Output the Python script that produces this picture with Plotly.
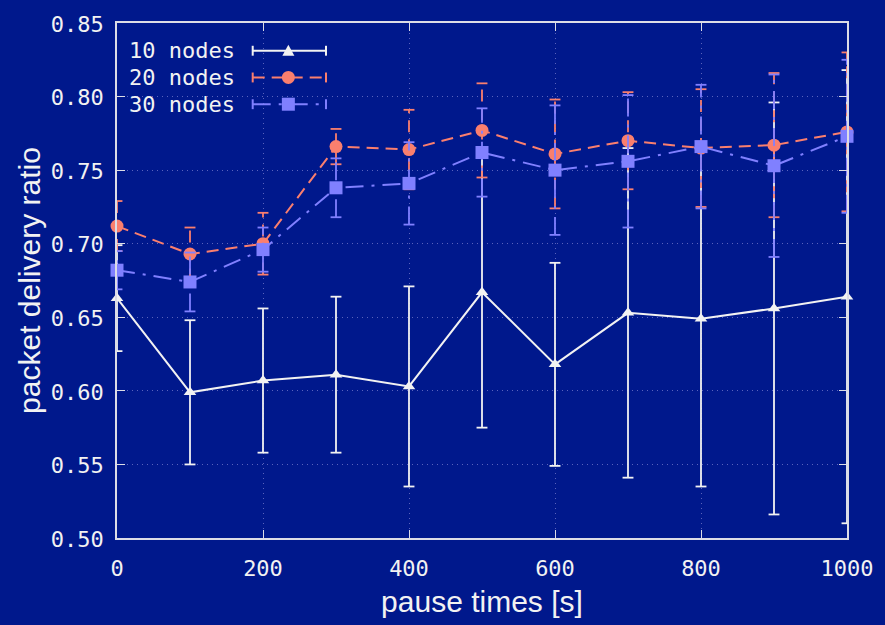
import plotly.graph_objects as go

pause_times = [0, 100, 200, 300, 400, 500, 600, 700, 800, 900, 1000]
n10 = [0.663, 0.599, 0.607, 0.611, 0.603, 0.667, 0.618, 0.653, 0.649, 0.656, 0.664]
n10_err = [0.036, 0.049, 0.049, 0.053, 0.068, 0.092, 0.069, 0.112, 0.114, 0.140, 0.154]
n20 = [0.712, 0.693, 0.700, 0.766, 0.764, 0.777, 0.761, 0.770, 0.765, 0.767, 0.776]
n20_err = [0.017, 0.018, 0.021, 0.012, 0.027, 0.032, 0.037, 0.033, 0.040, 0.049, 0.054]
n30 = [0.682, 0.674, 0.696, 0.738, 0.741, 0.762, 0.750, 0.756, 0.766, 0.753, 0.773]
n30_err = [0.013, 0.020, 0.015, 0.020, 0.028, 0.030, 0.044, 0.045, 0.042, 0.062, 0.052]
series_names = ["10 nodes", "20 nodes", "30 nodes"]
x_ticks = [0, 200, 400, 600, 800, 1000]
y_ticks = [0.50, 0.55, 0.60, 0.65, 0.70, 0.75, 0.80, 0.85]

BG = "#00188c"
WHITE = "#f2f2f2"
AXC = "#dcdce6"
RED = "#fa7f6e"
BLUE = "#8080ff"
MONO = "DejaVu Sans Mono"
SANS = "Liberation Sans"
W, H = 885, 625
L, R, T, B = 117, 854, 20, 540
XR = [0, 1000]

styles = [
    dict(color=WHITE, dash="solid", symbol="triangle-up", size=11),
    dict(color=RED, dash="12px,7px", symbol="circle", size=13),
    dict(color=BLUE, dash="18px,8px,3px,8px", symbol="square", size=13),
]
values = [n10, n20, n30]
errors = [n10_err, n20_err, n30_err]

# half-width of an error-bar cap, converted from pixels into x-data units
cap = 5.5 * (XR[1] - XR[0]) / (R - L)

fig = go.Figure()
for name, yv, ev, st in zip(series_names, values, errors, styles):
    bx, by, cx, cy = [], [], [], []
    for xv, y0, e in zip(pause_times, yv, ev):
        bx += [xv, xv, None]
        by += [y0 - e, y0 + e, None]
        for yy in (y0 - e, y0 + e):
            cx += [xv - cap, xv + cap, None]
            cy += [yy, yy, None]
    fig.add_trace(go.Scatter(x=bx, y=by, mode="lines", hoverinfo="skip",
                             line=dict(color=st["color"], width=1.8, dash=st["dash"]),
                             cliponaxis=False, showlegend=False))
    fig.add_trace(go.Scatter(x=cx, y=cy, mode="lines", hoverinfo="skip",
                             line=dict(color=st["color"], width=1.8),
                             cliponaxis=False, showlegend=False))
    fig.add_trace(go.Scatter(
        x=pause_times, y=yv, name=name, mode="lines+markers",
        line=dict(color=st["color"], width=2, dash=st["dash"]),
        marker=dict(color=st["color"], symbol=st["symbol"], size=st["size"]),
        cliponaxis=False, showlegend=False,
    ))

# gnuplot-style key (text left, sample right), in paper coordinates
def px(xp): return (xp - L) / (R - L)
def py(yp): return (B - yp) / (B - T)
rows = [48, 75, 102]
shapes = []
annotations = []
for name, st, ry in zip(series_names, styles, rows):
    annotations.append(dict(x=px(127), y=py(ry), xref="paper", yref="paper",
                            text=name, showarrow=False, xanchor="left", yanchor="middle",
                            font=dict(family=MONO, size=22, color=WHITE)))
    shapes.append(dict(type="line", xref="paper", yref="paper",
                       x0=px(254), x1=px(328), y0=py(ry), y1=py(ry),
                       line=dict(color=st["color"], width=2, dash=st["dash"])))
    for cxp in (254, 328):
        shapes.append(dict(type="line", xref="paper", yref="paper",
                           x0=px(cxp), x1=px(cxp), y0=py(ry - 5), y1=py(ry + 5),
                           line=dict(color=st["color"], width=2)))
    mx, my = px(290), py(ry)
    if st["symbol"] == "circle":
        shapes.append(dict(type="circle", xref="paper", yref="paper",
                           xsizemode="pixel", ysizemode="pixel", xanchor=mx, yanchor=my,
                           x0=-6.5, x1=6.5, y0=-6.5, y1=6.5,
                           fillcolor=st["color"], line=dict(width=0)))
    elif st["symbol"] == "square":
        shapes.append(dict(type="rect", xref="paper", yref="paper",
                           xsizemode="pixel", ysizemode="pixel", xanchor=mx, yanchor=my,
                           x0=-6.5, x1=6.5, y0=-6.5, y1=6.5,
                           fillcolor=st["color"], line=dict(width=0)))
    else:
        shapes.append(dict(type="path", xref="paper", yref="paper",
                           xsizemode="pixel", ysizemode="pixel", xanchor=mx, yanchor=my,
                           path="M -6,-5 L 6,-5 L 0,6 Z",
                           fillcolor=st["color"], line=dict(width=0)))

axis_common = dict(
    showline=True, linecolor=AXC, linewidth=1.5, mirror="ticks",
    ticks="inside", ticklen=8, tickcolor=AXC, tickwidth=1.2,
    showgrid=True, gridcolor="rgba(150,150,220,0.6)", gridwidth=1, griddash="1px,4px",
    zeroline=False, tickfont=dict(family=MONO, size=22, color=WHITE),
)

fig.update_layout(
    width=W, height=H,
    paper_bgcolor=BG, plot_bgcolor=BG,
    margin=dict(l=L, r=W - R, t=T, b=H - B),
    xaxis=dict(range=XR, tickvals=x_ticks, ticklabelstandoff=10, **axis_common,
               title=dict(text="pause times [s]", font=dict(family=SANS, size=30, color=WHITE), standoff=11)),
    yaxis=dict(range=[0.5, 0.85], tickvals=y_ticks, tickformat=".2f", ticklabelstandoff=7,
               ticklabelshift=1, **axis_common,
               title=dict(text="packet delivery ratio", font=dict(family=SANS, size=30, color=WHITE), standoff=1)),
    shapes=shapes, annotations=annotations,
    showlegend=False,
)
fig.write_html("out.html", config={"displayModeBar": False},
               post_script="document.body.style.margin='0';document.body.style.background='%s';" % BG)
